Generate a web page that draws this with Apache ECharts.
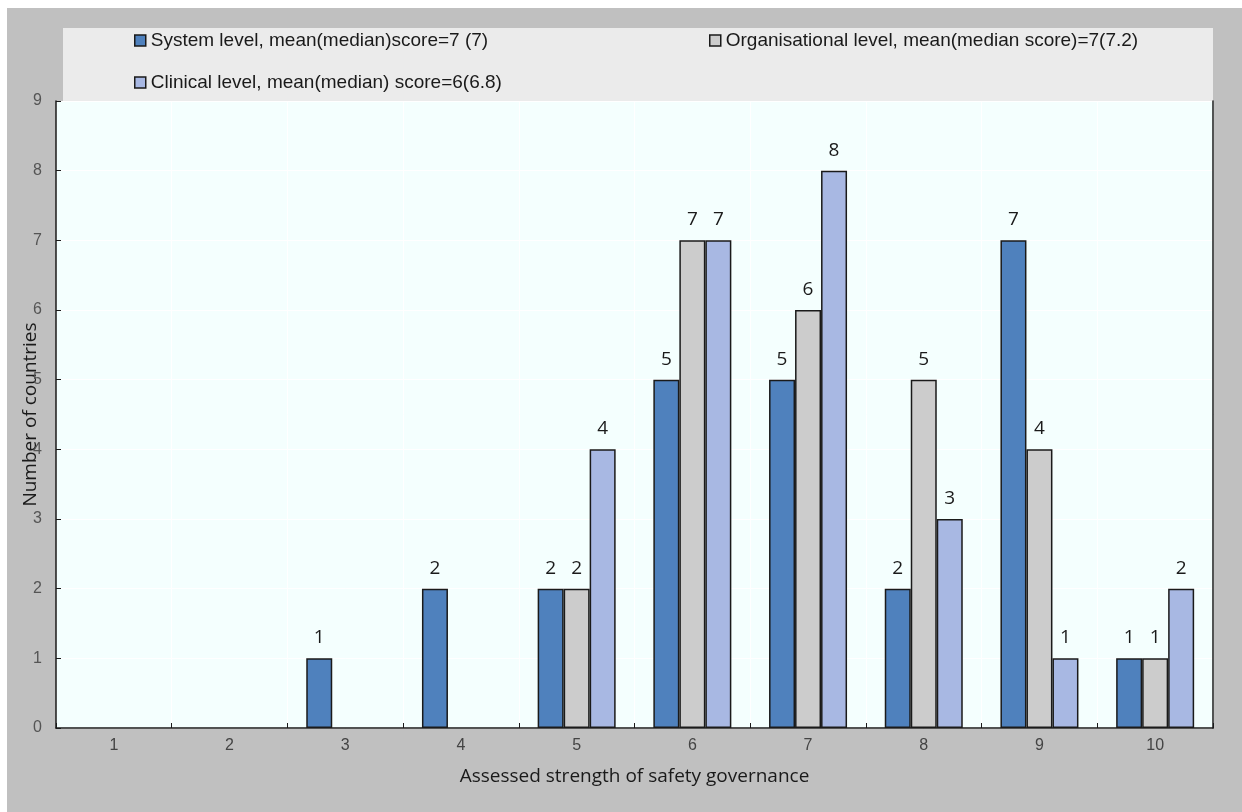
<!DOCTYPE html>
<html>
<head>
<meta charset="utf-8">
<script src="https://cdn.jsdelivr.net/npm/echarts@6/dist/echarts.min.js"></script>
<style>
  html, body { margin: 0; padding: 0; background: #ffffff; }
  #chart { width: 1242px; height: 812px; }
</style>
</head>
<body>
<div id="chart"></div>
<script>
// Scores on the safety-governance scale (x axis)
const categories = ['1', '2', '3', '4', '5', '6', '7', '8', '9', '10'];

// Series names as shown in the legend
const nameSystem = 'System level, mean(median)score=7 (7)';
const nameOrg = 'Organisational level, mean(median score)=7(7.2)';
const nameClinical = 'Clinical level, mean(median) score=6(6.8)';

// Number of countries per score, for each level
const systemLevel = [0, 0, 1, 2, 2, 5, 5, 2, 7, 1];
const organisationalLevel = [0, 0, 0, 0, 2, 7, 6, 5, 4, 1];
const clinicalLevel = [0, 0, 0, 0, 4, 7, 8, 3, 1, 2];

// Y axis range
const yMin = 0, yMax = 9, yStep = 1;

const chart = echarts.init(document.getElementById('chart'), null, { renderer: 'canvas' });

const labelStyle = {
  show: true,
  position: 'top',
  distance: 11,
  fontFamily: '"Open Sans", "Noto Sans", sans-serif',
  fontSize: 19,
  color: '#1a1a1a',
  formatter: p => (p.value ? String(p.value) : '')
};

// Empty scores get no bar at all (no border line on the axis)
function barSeries(name, data, color) {
  return {
    name: name,
    type: 'bar',
    data: data.map(v => (v === 0 ? null : v)),
    barWidth: 26,
    barGap: '0%',
    itemStyle: { color: color, borderColor: '#1a1a1a', borderWidth: 1.5 },
    label: labelStyle,
    emphasis: { disabled: true }
  };
}

const legendText = {
  fontFamily: '"Liberation Sans", Arial, sans-serif',
  fontSize: 19,
  color: '#1a1a1a'
};
const legendCommon = {
  icon: 'rect',
  itemWidth: 11,
  itemHeight: 11,
  itemGap: 0,
  padding: 0,
  selectedMode: false,
  textStyle: legendText,
  itemStyle: { borderColor: '#1a1a1a', borderWidth: 1.5 }
};

chart.setOption({
  animation: false,
  backgroundColor: '#ffffff',
  graphic: [
    { type: 'rect', z: -10, shape: { x: 7, y: 8, width: 1235, height: 804 }, style: { fill: '#c0c0c0' } },
    { type: 'rect', z: -9, shape: { x: 63, y: 28, width: 1150, height: 73 }, style: { fill: '#ebebeb' } }
  ],
  legend: [
    Object.assign({ data: [nameSystem], left: 134, top: 31 }, legendCommon),
    Object.assign({ data: [nameOrg], left: 709, top: 31 }, legendCommon),
    Object.assign({ data: [nameClinical], left: 134, top: 73 }, legendCommon)
  ],
  grid: {
    left: 56, right: 29, top: 101, bottom: 84,
    show: true,
    backgroundColor: '#f4fffe',
    borderWidth: 0
  },
  xAxis: {
    type: 'category',
    data: categories,
    name: 'Assessed strength of safety governance',
    nameLocation: 'middle',
    nameGap: 39,
    nameMoveOverlap: false,
    nameTextStyle: { fontFamily: '"Open Sans", "Noto Sans", sans-serif', fontSize: 19, color: '#1a1a1a' },
    axisLine: { lineStyle: { color: '#1a1a1a', width: 1.5 } },
    axisTick: { show: true, inside: true, length: 5, lineStyle: { color: '#1a1a1a' } },
    axisLabel: { margin: 10, fontFamily: '"Liberation Sans", Arial, sans-serif', fontSize: 16, color: '#444444' },
    splitLine: { show: true, lineStyle: { color: '#ffffff', width: 1 } }
  },
  yAxis: [
    {
      type: 'value',
      min: yMin, max: yMax, interval: yStep,
      name: 'Number of countries',
      nameLocation: 'middle',
      nameGap: 16,
      nameMoveOverlap: false,
      nameTextStyle: { fontFamily: '"Open Sans", "Noto Sans", sans-serif', fontSize: 19, color: '#1a1a1a' },
      axisLine: { show: true, lineStyle: { color: '#1a1a1a', width: 1.5 } },
      axisTick: { show: true, inside: true, length: 5, lineStyle: { color: '#1a1a1a' } },
      axisLabel: { margin: 14, fontFamily: '"Liberation Sans", Arial, sans-serif', fontSize: 16, color: '#555555' },
      splitLine: { show: true, lineStyle: { color: '#ffffff', width: 1 } }
    },
    {
      // right-hand frame of the plot area
      type: 'value',
      position: 'right',
      min: yMin, max: yMax, interval: yStep,
      axisLine: { show: true, lineStyle: { color: '#1a1a1a', width: 1.5 } },
      axisTick: { show: false },
      axisLabel: { show: false },
      splitLine: { show: false }
    }
  ],
  series: [
    barSeries(nameSystem, systemLevel, '#4f81bd'),
    barSeries(nameOrg, organisationalLevel, '#cccccc'),
    barSeries(nameClinical, clinicalLevel, '#a8b8e3')
  ]
});
</script>
</body>
</html>
